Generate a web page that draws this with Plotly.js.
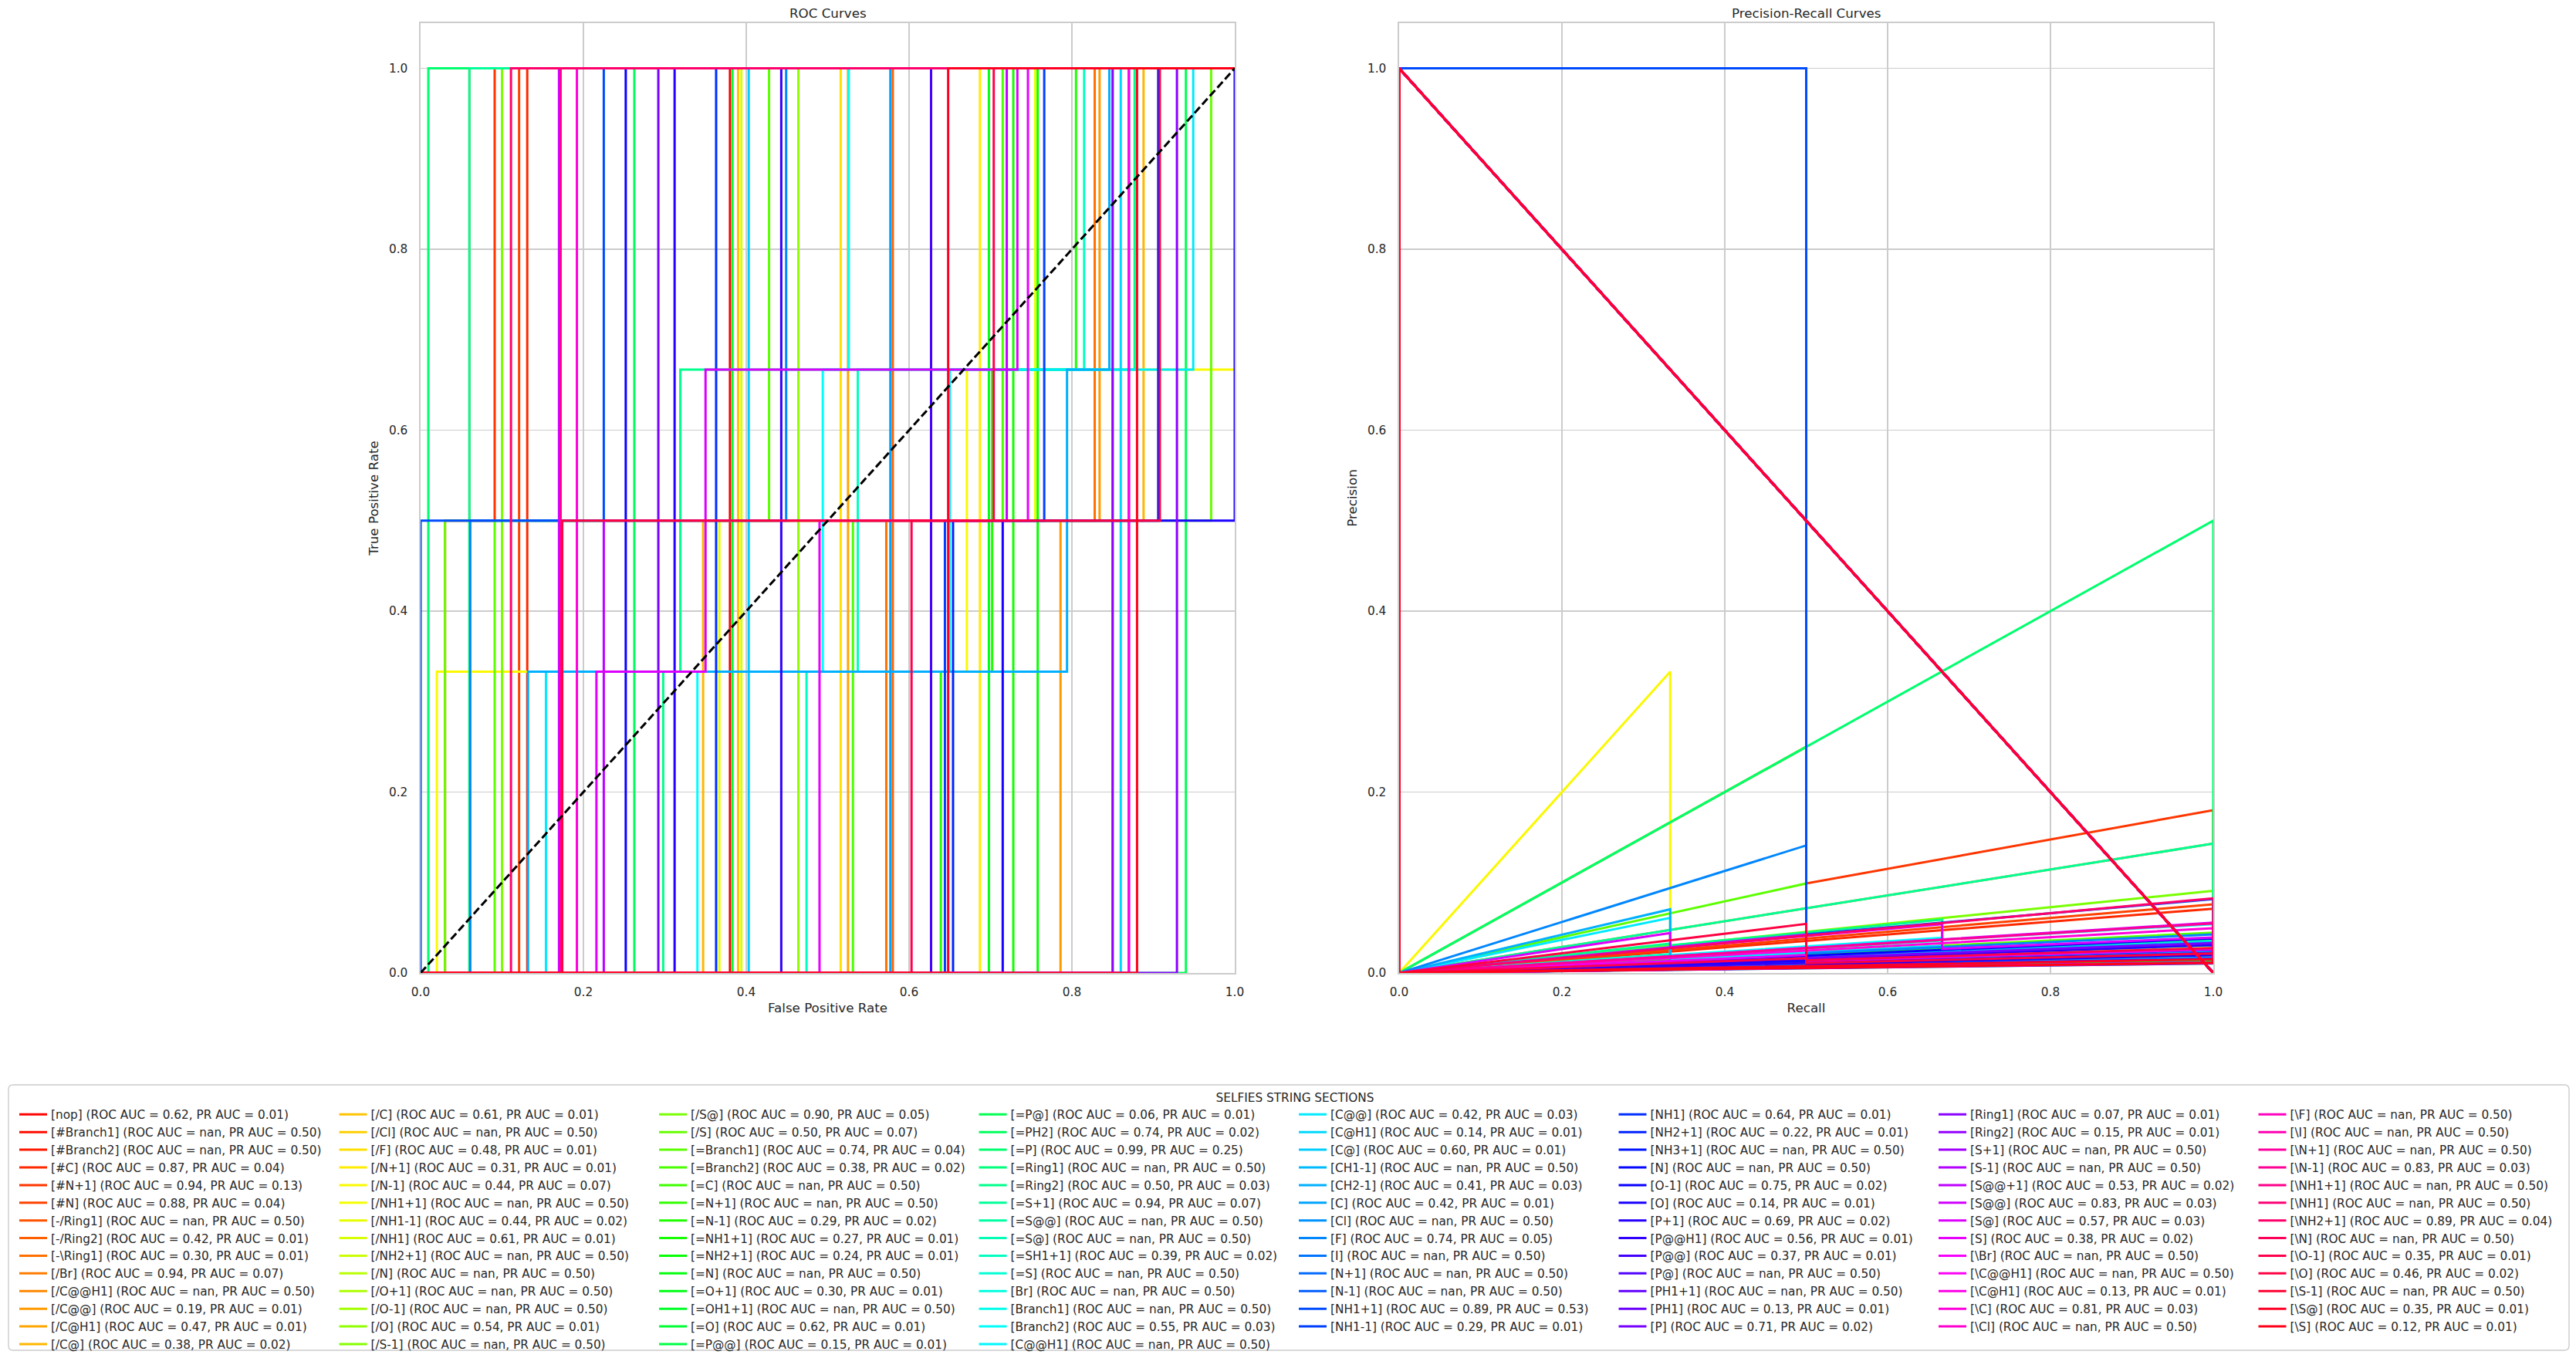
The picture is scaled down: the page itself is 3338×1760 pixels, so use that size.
<!DOCTYPE html>
<html><head><meta charset="utf-8">
<script src="https://cdn.plot.ly/plotly-3.0.1.min.js"></script>
<style>html,body{margin:0;padding:0;background:#fff}</style>
</head><body><div id="chart" style="width:3338px;height:1760px"></div>
<script>
// ---------------- DATA ----------------
const labels = ["[nop]","[#Branch1]","[#Branch2]","[#C]","[#N+1]","[#N]","[-/Ring1]","[-/Ring2]","[-\\Ring1]","[/Br]","[/C@@H1]","[/C@@]","[/C@H1]","[/C@]",
"[/C]","[/Cl]","[/F]","[/N+1]","[/N-1]","[/NH1+1]","[/NH1-1]","[/NH1]","[/NH2+1]","[/N]","[/O+1]","[/O-1]","[/O]","[/S-1]",
"[/S@]","[/S]","[=Branch1]","[=Branch2]","[=C]","[=N+1]","[=N-1]","[=NH1+1]","[=NH2+1]","[=N]","[=O+1]","[=OH1+1]","[=O]","[=P@@]",
"[=P@]","[=PH2]","[=P]","[=Ring1]","[=Ring2]","[=S+1]","[=S@@]","[=S@]","[=SH1+1]","[=S]","[Br]","[Branch1]","[Branch2]","[C@@H1]",
"[C@@]","[C@H1]","[C@]","[CH1-1]","[CH2-1]","[C]","[Cl]","[F]","[I]","[N+1]","[N-1]","[NH1+1]","[NH1-1]",
"[NH1]","[NH2+1]","[NH3+1]","[N]","[O-1]","[O]","[P+1]","[P@@H1]","[P@@]","[P@]","[PH1+1]","[PH1]","[P]",
"[Ring1]","[Ring2]","[S+1]","[S-1]","[S@@+1]","[S@@]","[S@]","[S]","[\\Br]","[\\C@@H1]","[\\C@H1]","[\\C]","[\\Cl]",
"[\\F]","[\\I]","[\\N+1]","[\\N-1]","[\\NH1+1]","[\\NH1]","[\\NH2+1]","[\\N]","[\\O-1]","[\\O]","[\\S-1]","[\\S@]","[\\S]"];

// null = nan
const rocAuc = [0.62,null,null,0.87,0.94,0.88,null,0.42,0.30,0.94,null,0.19,0.47,0.38,
0.61,null,0.48,0.31,0.44,null,0.44,0.61,null,null,null,null,0.54,null,
0.90,0.50,0.74,0.38,null,null,0.29,0.27,0.24,null,0.30,null,0.62,0.15,
0.06,0.74,0.99,null,0.50,0.94,null,null,0.39,null,null,null,0.55,null,
0.42,0.14,0.60,null,0.41,0.42,null,0.74,null,null,null,0.89,0.29,
0.64,0.22,null,null,0.75,0.14,0.69,0.56,0.37,null,null,0.13,0.71,
0.07,0.15,null,null,0.53,0.83,0.57,0.38,null,null,0.13,0.81,null,
null,null,null,0.83,null,null,0.89,null,0.35,0.46,null,0.35,0.12];

const prAuc = [0.01,0.50,0.50,0.04,0.13,0.04,0.50,0.01,0.01,0.07,0.50,0.01,0.01,0.02,
0.01,0.50,0.01,0.01,0.07,0.50,0.02,0.01,0.50,0.50,0.50,0.50,0.01,0.50,
0.05,0.07,0.04,0.02,0.50,0.50,0.02,0.01,0.01,0.50,0.01,0.50,0.01,0.01,
0.01,0.02,0.25,0.50,0.03,0.07,0.50,0.50,0.02,0.50,0.50,0.50,0.03,0.50,
0.03,0.01,0.01,0.50,0.03,0.01,0.50,0.05,0.50,0.50,0.50,0.53,0.01,
0.01,0.01,0.50,0.50,0.02,0.01,0.02,0.01,0.01,0.50,0.50,0.01,0.02,
0.01,0.01,0.50,0.50,0.02,0.03,0.03,0.02,0.50,0.50,0.01,0.03,0.50,
0.50,0.50,0.50,0.03,0.50,0.50,0.04,0.50,0.01,0.02,0.50,0.01,0.01];

// ROC curve points (false positive rate, true positive rate)
const rocFpr = [
[0,0.38,0.38,1],[],[],[0,0.131,0.131,1],[0,0.03,0.03,0.091,0.091,1],[0,0.121,0.121,1],[],[0,0.58,0.58,1],
[0,0.572,0.572,0.828,0.828,1],[0,0.06,0.06,1],[],[0,0.786,0.786,0.834,0.834,1],[0,0.525,0.525,1],[0,0.347,0.347,0.888,0.888,1],
[0,0.39,0.39,1],[],[0,0.516,0.516,1],[0,0.687,0.687,1],[0,0.02,0.02,0.671,0.671,1,1,1],[],[0,0.367,0.367,0.755,0.755,1],
[0,0.394,0.394,1],[],[],[],[],[0,0.464,0.464,1],[],
[0,0.1,0.1,1],[0,0.03,0.03,0.971,0.971,1],[0,0.091,0.091,0.428,0.428,1],[0,0.531,0.531,0.715,0.715,1],[],[],
[0,0.639,0.639,0.702,0.702,0.805,0.805,1],[0,0.728,0.728,1],[0,0.758,0.758,1],[],[0,0.698,0.698,1],[],[0,0.383,0.383,1],[0,0.85,0.85,1],
[0,0.94,0.94,1],[0,0.2625,0.2625,1],[0,0.0095,0.0095,1],[],[0,0.298,0.298,0.319,0.319,0.877,0.877,1],[0,0.06,0.06,1],[],[],
[0,0.474,0.474,0.537,0.537,0.815,0.815,1],[],[],[],[0,0.34,0.34,0.494,0.494,0.526,0.526,1],[],
[0,0.154,0.154,0.65,0.65,0.949,0.949,1],[0,0.86,0.86,1],[0,0.403,0.403,1],[],[0,0.132,0.132,0.794,0.794,0.846,0.846,1],[0,0.577,0.577,1],[],
[0,0.061,0.061,0.449,0.449,1],[],[],[],[0,0,0,0.225,0.225,1],[0,0.644,0.644,0.766,0.766,1],
[0,0.363,0.363,1],[0,0.654,0.654,0.906,0.906,1],[],[],[0,0.252,0.252,1],[0,0.715,0.715,1,1,1],[0,0.312,0.312,1],[0,0.443,0.443,1],
[0,0.627,0.627,1],[],[],[0,0.87,0.87,1],[0,0.292,0.292,1],
[0,0.929,0.929,1],[0,0.85,0.85,1],[],[],[0,0.225,0.225,0.72,0.72,1],[0,0.17,0.17,1],[0,0.216,0.216,0.35,0.35,0.733,0.733,1],
[0,0.49,0.49,0.746,0.746,1],[],[],[0,0.87,0.87,1],[0,0.192,0.192,1],[],
[],[],[],[0,0.172,0.172,1],[],[],[0,0.111,0.111,1],[],[0,0.603,0.603,0.704,0.704,1],[0,0.174,0.174,0.908,0.908,1],[],
[0,0.648,0.648,1],[0,0.88,0.88,1]];

const rocTpr = [
[0,0,1,1],[],[],[0,0,1,1],[0,0,0.5,0.5,1,1],[0,0,1,1],[],[0,0,1,1],
[0,0,0.5,0.5,1,1],[0,0,1,1],[],[0,0,0.5,0.5,1,1],[0,0,1,1],[0,0,0.5,0.5,1,1],
[0,0,1,1],[],[0,0,1,1],[0,0,1,1],[0,0,0.333,0.333,0.667,0.667,1,1],[],[0,0,0.5,0.5,1,1],
[0,0,1,1],[],[],[],[],[0,0,1,1],[],
[0,0,1,1],[0,0,0.5,0.5,1,1],[0,0,0.5,0.5,1,1],[0,0,0.5,0.5,1,1],[],[],
[0,0,0.333,0.333,0.667,0.667,1,1],[0,0,1,1],[0,0,1,1],[],[0,0,1,1],[],[0,0,1,1],[0,0,1,1],
[0,0,1,1],[0,0,1,1],[0,0,1,1],[],[0,0,0.333,0.333,0.667,0.667,1,1],[0,0,1,1],[],[],
[0,0,0.333,0.333,0.667,0.667,1,1],[],[],[],[0,0,0.333,0.333,0.667,0.667,1,1],[],
[0,0,0.333,0.333,0.667,0.667,1,1],[0,0,1,1],[0,0,1,1],[],[0,0,0.333,0.333,0.667,0.667,1,1],[0,0,1,1],[],
[0,0,0.5,0.5,1,1],[],[],[],[0,0,0.5,0.5,1,1],[0,0,0.5,0.5,1,1],
[0,0,1,1],[0,0,0.5,0.5,1,1],[],[],[0,0,1,1],[0,0,0.5,0.5,1,1],[0,0,1,1],[0,0,1,1],
[0,0,1,1],[],[],[0,0,1,1],[0,0,1,1],
[0,0,1,1],[0,0,1,1],[],[],[0,0,0.5,0.5,1,1],[0,0,1,1],[0,0,0.333,0.333,0.667,0.667,1,1],
[0,0,0.5,0.5,1,1],[],[],[0,0,1,1],[0,0,1,1],[],
[],[],[],[0,0,1,1],[],[],[0,0,1,1],[],[0,0,0.5,0.5,1,1],[0,0,0.5,0.5,1,1],[],
[0,0,1,1],[0,0,1,1]];

// Precision-recall curve points (recall, precision)
const R1 = [1,1,0,0], R2 = [1,1,0.5,0.5,0,0], R3 = [1,1,0.667,0.667,0.333,0.333,0,0], RN = [1,0];
const prRecall = [
R1,RN,RN,R1,R2,R1,RN,R1,R2,R1,RN,R2,R1,R2,
R1,RN,R1,R1,R3,RN,R2,R1,RN,RN,RN,RN,R1,RN,
R1,R2,R2,R2,RN,RN,R3,R1,R1,RN,R1,RN,R1,R1,
R1,R1,R1,RN,R3,R1,RN,RN,R3,RN,RN,RN,R3,RN,
R3,R1,R1,RN,R3,R1,RN,R2,RN,RN,RN,[1,1,0.5,0.5,0],R2,
R1,R2,RN,RN,R1,R2,R1,R1,R1,RN,RN,R1,R1,
R1,R1,RN,RN,R2,R1,R3,R2,RN,RN,R1,R1,RN,
RN,RN,RN,R1,RN,RN,R1,RN,R2,R2,RN,R1,R1];

const prPrecision = [
[0.01,0.026,0,1],[0,1],[0,1],[0.01,0.071,0,1],[0.02,0.180,0.099,0.25,0,1],[0.01,0.076,0,1],[0,1],[0.01,0.017,0,1],
[0.02,0.0236,0.0119,0.0172,0,1],[0.01,0.143,0,1],[0,1],[0.02,0.0234,0.0118,0.0126,0,1],[0.01,0.0187,0,1],[0.02,0.022,0.0111,0.028,0,1],
[0.01,0.025,0,1],[0,1],[0.01,0.019,0,1],[0.01,0.0143,0,1],[0.03,0.0291,0.0196,0.0289,0.0147,0.333,0,1],[0,1],[0.02,0.0258,0.0131,0.0265,0,1],
[0.01,0.0248,0,1],[0,1],[0,1],[0,1],[0,1],[0.01,0.0211,0,1],[0,1],
[0.01,0.0909,0,1],[0.02,0.0202,0.0102,0.25,0,1],[0.02,0.0446,0.0228,0.099,0,1],[0.02,0.0272,0.0138,0.0185,0,1],[0,1],[0,1],
[0.03,0.0359,0.0242,0.0277,0.014,0.0154,0,1],[0.01,0.0136,0,1],[0.01,0.013,0,1],[0,1],[0.01,0.0141,0,1],[0,1],[0.01,0.0254,0,1],[0.01,0.0116,0,1],
[0.01,0.0105,0,1],[0.01,0.0367,0,1],[0.01,0.5,0,1],[0,1],[0.03,0.0331,0.0223,0.059,0.0304,0.0325,0,1],[0.01,0.143,0,1],[0,1],[0,1],
[0.03,0.0355,0.024,0.0359,0.0183,0.0207,0,1],[0,1],[0,1],[0,1],[0.03,0.054,0.0366,0.0389,0.0198,0.0286,0,1],[0,1],
[0.03,0.0306,0.0206,0.0299,0.0152,0.061,0,1],[0.01,0.0115,0,1],[0.01,0.0242,0,1],[0,1],[0.03,0.0342,0.0231,0.0246,0.0124,0.0704,0,1],[0.01,0.017,0,1],[0,1],
[0.02,0.0426,0.0218,0.141,0,1],[0,1],[0,1],[0,1],[0.02,0.0816,0.0426,1,1],[0.02,0.0254,0.0129,0.0153,0,1],
[0.01,0.0268,0,1],[0.02,0.0216,0.0109,0.0151,0,1],[0,1],[0,1],[0.01,0.0382,0,1],[0.02,0.0196,0.0099,0.0138,0,1],[0.01,0.031,0,1],[0.01,0.0221,0,1],
[0.01,0.0157,0,1],[0,1],[0,1],[0.01,0.0114,0,1],[0.01,0.0331,0,1],
[0.01,0.0106,0,1],[0.01,0.0116,0,1],[0,1],[0,1],[0.02,0.027,0.0137,0.0426,0,1],[0.01,0.0556,0,1],[0.03,0.0393,0.0266,0.054,0.0278,0.0442,0,1],
[0.02,0.0261,0.0132,0.02,0,1],[0,1],[0,1],[0.01,0.0114,0,1],[0.01,0.0495,0,1],[0,1],
[0,1],[0,1],[0,1],[0.01,0.0549,0,1],[0,1],[0,1],[0.01,0.0826,0,1],[0,1],[0.02,0.0276,0.014,0.0163,0,1],[0.02,0.0216,0.0109,0.0543,0,1],[0,1],
[0.01,0.0152,0,1],[0.01,0.0112,0,1]];

const chanceX = [0, 1];
const chanceY = [0, 1];
const axisTicks = [0, 0.2, 0.4, 0.6, 0.8, 1.0];

// ---------------- STYLE ----------------
const W = 3338, H = 1760;
const px = v => v / W, py = v => 1 - v / H;
const FONT = 'DejaVu Sans';
const TXT = '#262626';

// matplotlib "hsv" colormap
const hsvSeg = {
  r: [[0,1],[0.158730,1],[0.174603,0.96875],[0.333333,0.03125],[0.349206,0],[0.666667,0],[0.682540,0.03125],[0.841270,0.96875],[0.857143,1],[1,1]],
  g: [[0,0],[0.158730,0.9375],[0.174603,1],[0.507937,1],[0.666667,0.0625],[0.682540,0],[1,0]],
  b: [[0,0],[0.333333,0],[0.349206,0.0625],[0.507937,1],[0.841270,1],[0.857143,0.9375],[1,0.09375]]
};
function segVal(seg, t) {
  for (let k = 1; k < seg.length; k++) {
    if (t <= seg[k][0]) {
      const [x0, y0] = seg[k-1], [x1, y1] = seg[k];
      return y0 + (y1 - y0) * (t - x0) / (x1 - x0);
    }
  }
  return seg[seg.length-1][1];
}
function hsvColor(x) {
  const idx = Math.min(255, Math.floor(x * 256));
  const t = idx / 255;
  const c = ['r','g','b'].map(k => Math.round(segVal(hsvSeg[k], t) * 255));
  return `rgb(${c[0]},${c[1]},${c[2]})`;
}

const n = labels.length;
function legendRank(i) {
  let c, r;
  if (i < 56) { c = Math.floor(i / 14); r = i % 14; }
  else { const j = i - 56; c = 4 + Math.floor(j / 13); r = j % 13; }
  return r * 8 + c + 1;
}
const fmt = v => v === null ? 'nan' : v.toFixed(2);

const LW = 3.0;
const traces = [];
for (let i = 0; i < n; i++) {
  const col = hsvColor(i / (n - 1));
  traces.push({
    x: rocFpr[i], y: rocTpr[i], xaxis: 'x', yaxis: 'y', type: 'scatter', mode: 'lines',
    line: {color: col, width: LW}, showlegend: false, legendgroup: 'g' + i, hoverinfo: 'skip'
  });
}
traces.push({
  x: chanceX, y: chanceY, xaxis: 'x', yaxis: 'y', type: 'scatter', mode: 'lines',
  line: {color: '#000000', width: 3.0, dash: '10.3px,4.4px'}, showlegend: false, hoverinfo: 'skip'
});
for (let i = 0; i < n; i++) {
  const col = hsvColor(i / (n - 1));
  traces.push({
    x: prRecall[i], y: prPrecision[i], xaxis: 'x2', yaxis: 'y2', type: 'scatter', mode: 'lines',
    line: {color: col, width: LW}, legendgroup: 'g' + i, legendrank: legendRank(i),
    name: `${labels[i]} (ROC AUC = ${fmt(rocAuc[i])}, PR AUC = ${fmt(prAuc[i])})`,
    hoverinfo: 'skip'
  });
}

function axis(extra) {
  return Object.assign({
    showgrid: true, gridcolor: '#cccccc', gridwidth: 1.4,
    showline: true, mirror: true, linecolor: '#cccccc', linewidth: 1.7,
    zeroline: false, ticks: '', tickmode: 'array', tickvals: axisTicks, tickformat: '.1f',
    tickfont: {family: FONT, size: 15.3, color: TXT}, fixedrange: true
  }, extra);
}
const xDom1 = [px(545), px(1600)], xDom2 = [px(1813), px(2868)], yDom = [py(1261), py(30)];
const titleFont = {family: FONT, size: 16.7, color: TXT};

const r = 6;
const bx0 = px(11), bx1 = px(3329), by0 = py(1750), by1 = py(1406);
const rx = r / W, ry = r / H;
const boxPath = `M ${bx0+rx} ${by1} L ${bx1-rx} ${by1} Q ${bx1} ${by1} ${bx1} ${by1-ry} L ${bx1} ${by0+ry} Q ${bx1} ${by0} ${bx1-rx} ${by0} L ${bx0+rx} ${by0} Q ${bx0} ${by0} ${bx0} ${by0+ry} L ${bx0} ${by1-ry} Q ${bx0} ${by1} ${bx0+rx} ${by1} Z`;

const layout = {
  width: W, height: H, margin: {l: 0, r: 0, t: 0, b: 0, pad: 0},
  paper_bgcolor: '#ffffff', plot_bgcolor: '#ffffff',
  font: {family: FONT, color: TXT, size: 15.3},
  showlegend: true, hovermode: false,
  xaxis: axis({domain: xDom1, anchor: 'y', range: [0, 1], ticklabelstandoff: 10,
    title: {text: 'False Positive Rate', font: titleFont, standoff: 6}}),
  yaxis: axis({domain: yDom, anchor: 'x', range: [0, 1.05], ticklabelstandoff: 12,
    title: {text: 'True Positive Rate', font: titleFont, standoff: 9}}),
  xaxis2: axis({domain: xDom2, anchor: 'y2', range: [0, 1], ticklabelstandoff: 10,
    title: {text: 'Recall', font: titleFont, standoff: 6}}),
  yaxis2: axis({domain: yDom, anchor: 'x2', range: [0, 1.05], ticklabelstandoff: 12,
    title: {text: 'Precision', font: titleFont, standoff: 9}}),
  annotations: [
    {text: 'ROC Curves', xref: 'paper', yref: 'paper', x: (xDom1[0]+xDom1[1])/2, y: py(17),
     xanchor: 'center', yanchor: 'middle', showarrow: false, font: titleFont},
    {text: 'Precision-Recall Curves', xref: 'paper', yref: 'paper', x: (xDom2[0]+xDom2[1])/2, y: py(17),
     xanchor: 'center', yanchor: 'middle', showarrow: false, font: titleFont}
  ],
  shapes: [
    {type: 'path', xref: 'paper', yref: 'paper', path: boxPath, layer: 'above',
     line: {color: '#cccccc', width: 1.4}, fillcolor: 'rgba(255,255,255,0.8)'}
  ],
  legend: {
    orientation: 'h', x: px(20), y: py(1408), xanchor: 'left', yanchor: 'top',
    entrywidth: 363.5, entrywidthmode: 'pixels', itemwidth: 36, tracegroupgap: 0,
    font: {family: FONT, size: 15.3, color: TXT},
    bgcolor: 'rgba(0,0,0,0)', borderwidth: 0,
    title: {text: 'SELFIES STRING SECTIONS', side: 'top center', font: {family: FONT, size: 15.3, color: TXT}},
    itemclick: false, itemdoubleclick: false
  }
};

Plotly.newPlot('chart', traces, layout, {staticPlot: true, displayModeBar: false});
</script>
</body></html>
